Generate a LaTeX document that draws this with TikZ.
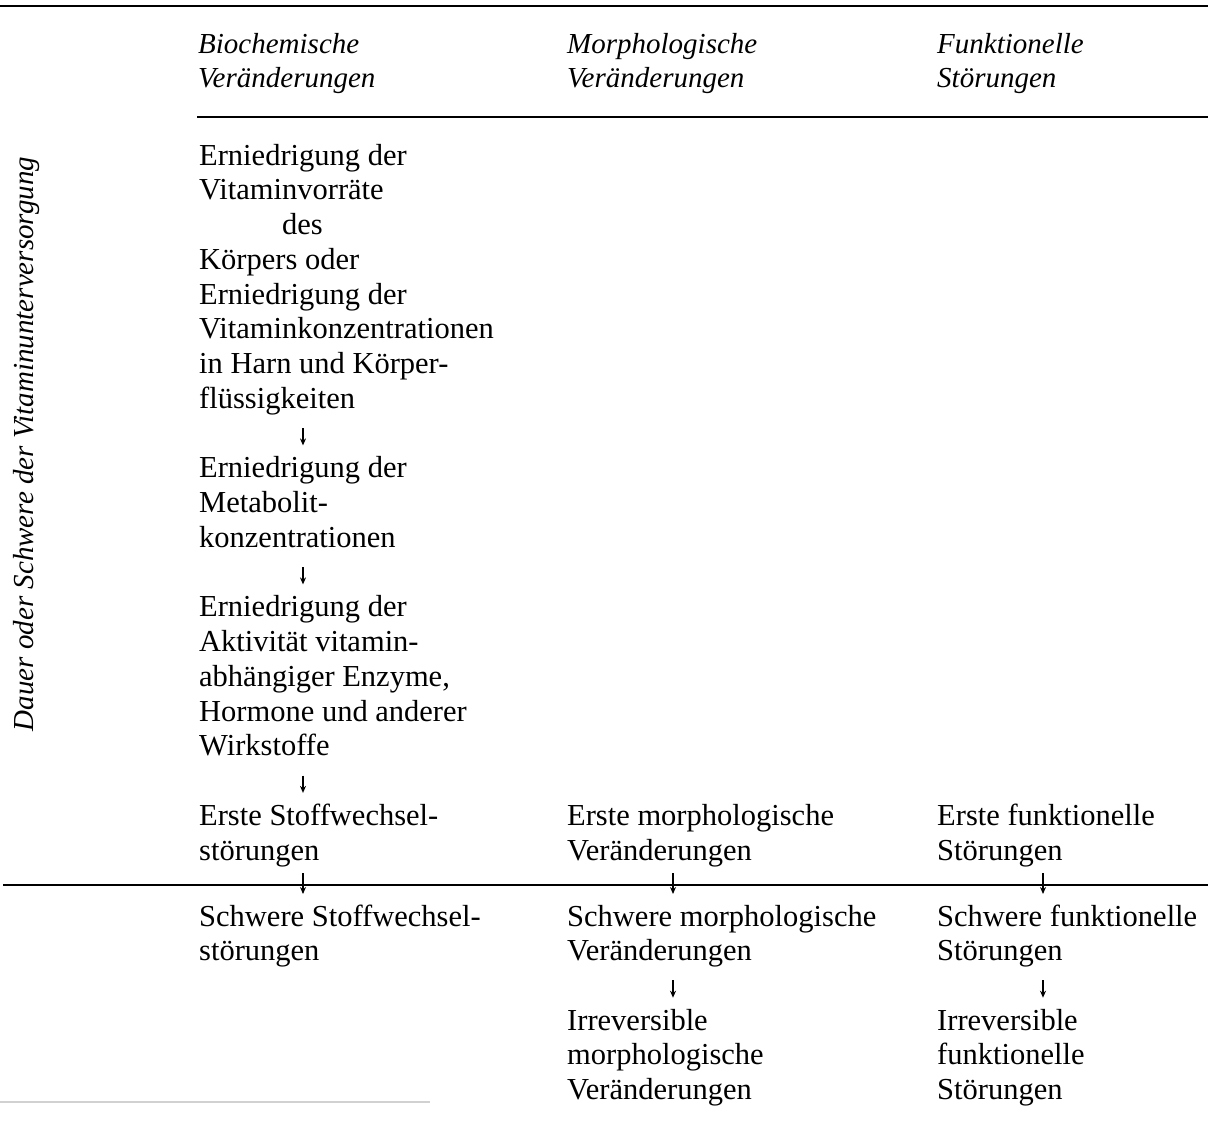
\documentclass[tikz,border=0pt]{standalone}
\usepackage{fontspec}
\setmainfont{Liberation Serif}
\usetikzlibrary{arrows.meta}
\begin{document}
\begin{tikzpicture}[x=1pt,y=-1pt,
 body/.style={anchor=north west, inner sep=0pt, align=left, font=\fontsize{30.5}{34.75}\selectfont},
 head/.style={anchor=north west, inner sep=0pt, align=left, font=\fontsize{29}{34}\selectfont\itshape},
 rule/.style={line width=1.6pt, black},
 arr/.style={-{Stealth[length=7pt,width=6pt]}, line width=1.5pt, shorten <=9pt, shorten >=8pt},
 arrx/.style={-{Stealth[length=7pt,width=6pt]}, line width=1.5pt, shorten <=2.5pt, shorten >=7.5pt}]
\useasboundingbox (0,0) rectangle (1208,1129);
% column x for arrows
\coordinate (ax1) at (303,0);
\coordinate (ax2) at (673,0);
\coordinate (ax3) at (1043,0);
% rules
\draw[rule] (0,6) -- (1208,6);
\draw[rule] (197,117) -- (1208,117);
\draw[rule] (3,885) -- (1208,885);
\draw[line width=1.5pt, black!18] (0,1102) -- (430,1102);
% headers
\node[head] (h1) at (198,29.2) {\strut Biochemische\\Veränderungen\strut};
\node[head] (h2) at (567,29.2) {\strut Morphologische\\Veränderungen\strut};
\node[head] (h3) at (937,29.2) {\strut Funktionelle\\Störungen\strut};
% side label
\node[rotate=90, anchor=base, inner sep=0pt, font=\fontsize{29}{34}\selectfont\itshape] (side) at (34,444) {Dauer oder Schwere der Vitaminunterversorgung};
% column 1
\node[body] (a) at (199,140.7) {\strut Erniedrigung der\\Vitaminvorräte\\\hspace*{83pt}des\\Körpers oder\\Erniedrigung der\\Vitaminkonzentrationen\\in Harn und Körper-\\flüssigkeiten\strut};
\node[body] (b) at (199,453.4) {\strut Erniedrigung der\\Metabolit-\\konzentrationen\strut};
\node[body] (c) at (199,592.4) {\strut Erniedrigung der\\Aktivität vitamin-\\abhängiger Enzyme,\\Hormone und anderer\\Wirkstoffe\strut};
\node[body] (d) at (199,800.9) {\strut Erste Stoffwechsel-\\störungen\strut};
\node[body] (e) at (199,901.5) {\strut Schwere Stoffwechsel-\\störungen\strut};
% column 2
\node[body] (f) at (567,800.9) {\strut Erste morphologische\\Veränderungen\strut};
\node[body] (g) at (567,901.5) {\strut Schwere morphologische\\Veränderungen\strut};
\node[body] (h) at (567,1005.7) {\strut Irreversible\\morphologische\\Veränderungen\strut};
% column 3
\node[body] (i) at (937,800.9) {\strut Erste funktionelle\\Störungen\strut};
\node[body] (j) at (937,901.5) {\strut Schwere funktionelle\\Störungen\strut};
\node[body] (k) at (937,1005.7) {\strut Irreversible\\funktionelle\\Störungen\strut};
% arrows
\draw[arr] (a.south -| ax1) -- (b.north -| ax1);
\draw[arr] (b.south -| ax1) -- (c.north -| ax1);
\draw[arr] (c.south -| ax1) -- (d.north -| ax1);
\draw[arrx] (d.south -| ax1) -- (e.north -| ax1);
\draw[arrx] (f.south -| ax2) -- (g.north -| ax2);
\draw[arrx] (i.south -| ax3) -- (j.north -| ax3);
\draw[arr] (g.south -| ax2) -- (h.north -| ax2);
\draw[arr] (j.south -| ax3) -- (k.north -| ax3);
\end{tikzpicture}
\end{document}
